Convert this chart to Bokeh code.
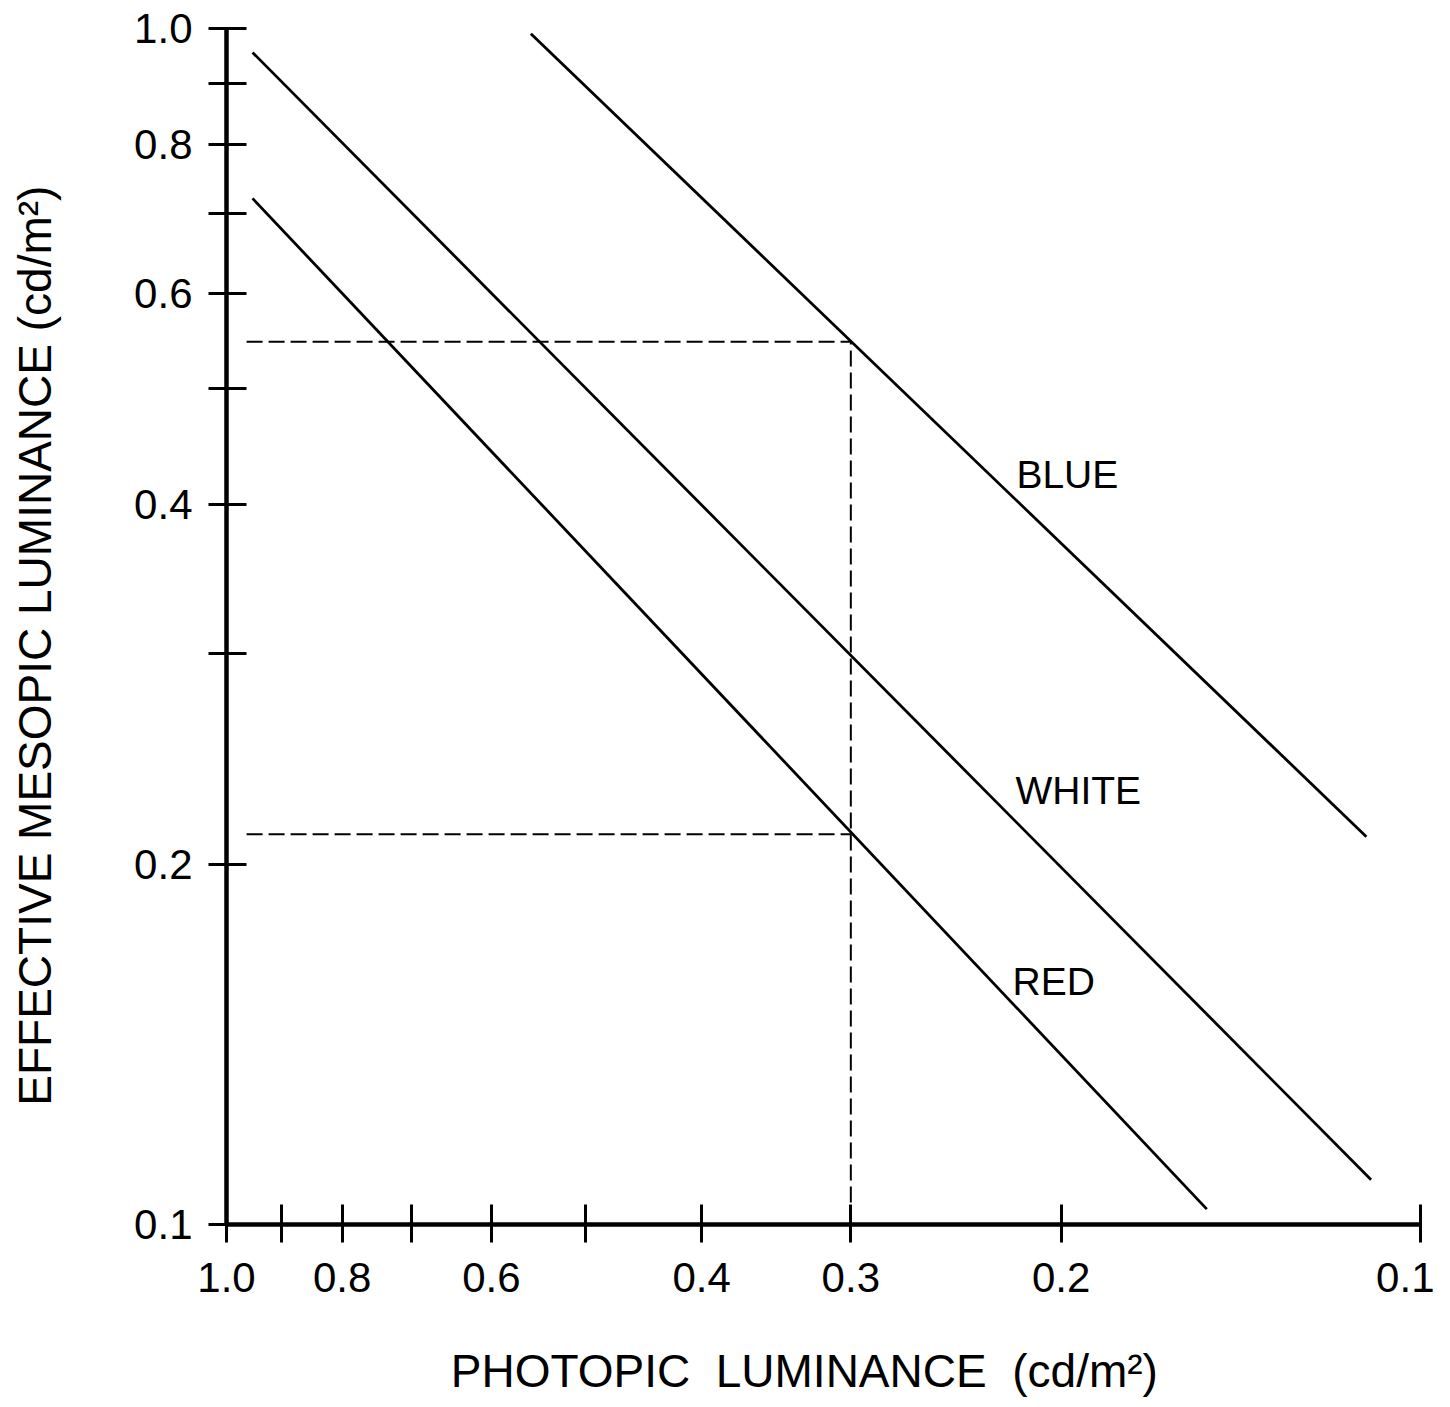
from bokeh.plotting import figure
from bokeh.models import Range1d, FixedTicker, CustomJSTickFormatter, ColumnDataSource
from bokeh.core.properties import value
from bokeh.embed import file_html
from bokeh.resources import INLINE

# ---- data ----
x_ticks = [1.0, 0.9, 0.8, 0.7, 0.6, 0.5, 0.4, 0.3, 0.2, 0.1]
x_labeled = [1.0, 0.8, 0.6, 0.4, 0.3, 0.2, 0.1]
y_ticks = [0.1, 0.2, 0.3, 0.4, 0.5, 0.6, 0.7, 0.8, 0.9, 1.0]
y_labeled = [0.1, 0.2, 0.4, 0.6, 0.8, 1.0]

blue_x = [0.556, 0.111]
blue_y = [0.990, 0.211]
white_x = [0.951, 0.110]
white_y = [0.955, 0.109]
red_x = [0.951, 0.151]
red_y = [0.721, 0.103]

# dashed guide lines (photopic 0.3 -> mesopic values)
guide_x = 0.3
guide_blue_y = 0.547
guide_red_y = 0.212
guide_x_start = 0.962
y_min = 0.1

series_names = ["BLUE", "WHITE", "RED"]
label_x = [0.2180, 0.2184, 0.2196]
label_y = [0.424, 0.2306, 0.1597]

FONT = "Liberation Sans"
NB = "\u00a0"

p = figure(width=1434, height=1399,
           x_axis_type="log", y_axis_type="log",
           x_range=Range1d(1.0, 0.1), y_range=Range1d(0.1, 1.0),
           output_backend="svg", toolbar_location=None,
           min_border_left=226, min_border_right=14,
           min_border_top=28, min_border_bottom=174)
p.outline_line_color = None
p.background_fill_color = "white"
p.border_fill_color = "white"
p.xgrid.visible = False
p.ygrid.visible = False

def fmt(shown):
    return CustomJSTickFormatter(args=dict(shown=shown), code="""
        for (const t of shown) { if (Math.abs(t - tick) < 1e-9) return tick.toFixed(1); }
        return "";
    """)

for ax, ticks, shown in ((p.xaxis[0], x_ticks, x_labeled), (p.yaxis[0], y_ticks, y_labeled)):
    ax.ticker = FixedTicker(ticks=ticks)
    ax.formatter = fmt(shown)
    ax.axis_line_width = 4.5
    ax.axis_line_color = "black"
    ax.major_tick_line_width = 3
    ax.major_tick_line_color = "black"
    ax.major_tick_in = 20
    ax.major_tick_out = 18
    ax.minor_tick_line_color = None
    ax.major_label_text_font = FONT
    ax.major_label_text_font_size = "42px"
    ax.major_label_text_color = "black"
    ax.axis_label_text_font = FONT
    ax.axis_label_text_font_size = "46px"
    ax.axis_label_text_font_style = "normal"
    ax.axis_label_text_color = "black"

p.xaxis[0].axis_label = "PHOTOPIC" + NB + " LUMINANCE" + NB + " (cd/m²)" + NB * 3
p.yaxis[0].axis_label = "EFFECTIVE MESOPIC LUMINANCE (cd/m²)" + NB * 3
p.xaxis[0].major_label_standoff = 20
p.yaxis[0].major_label_standoff = 16
p.xaxis[0].axis_label_standoff = 50
p.yaxis[0].axis_label_standoff = 70

for xs, ys in ((blue_x, blue_y), (white_x, white_y), (red_x, red_y)):
    p.line(xs, ys, line_color="black", line_width=2.8)

p.line([guide_x_start, guide_x], [guide_blue_y, guide_blue_y],
       line_color="black", line_width=2, line_dash="16 6")
p.line([guide_x_start, guide_x], [guide_red_y, guide_red_y],
       line_color="black", line_width=2, line_dash="16 6")
p.line([guide_x, guide_x], [y_min, guide_blue_y],
       line_color="black", line_width=2, line_dash="16 6")

src = ColumnDataSource(dict(x=label_x, y=label_y, t=series_names))
p.text(x="x", y="y", text="t", source=src, text_font=value(FONT),
       text_font_size="39px", text_baseline="alphabetic", text_align="left",
       text_color="black")

open("out.html", "w").write(file_html(p, INLINE))
